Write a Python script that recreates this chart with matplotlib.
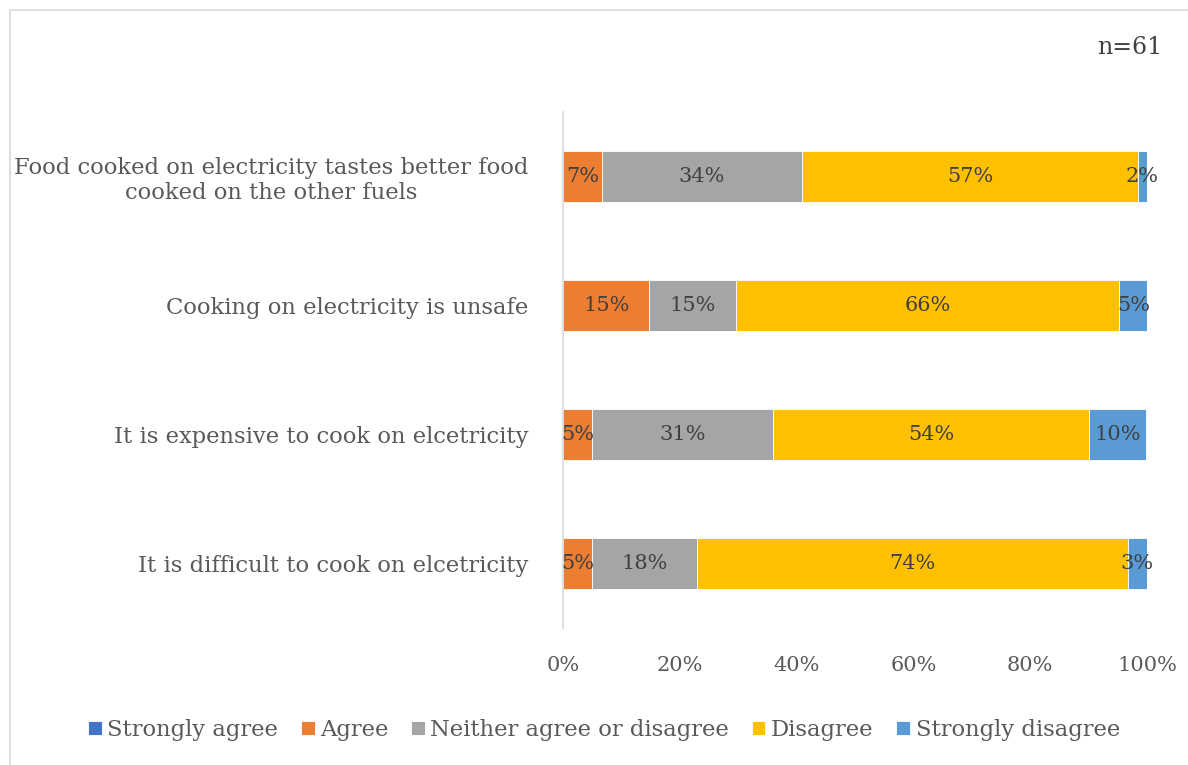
import numpy as np
import matplotlib.pyplot as plt
from matplotlib.patches import Rectangle

plt.rcParams['font.family'] = 'DejaVu Serif'

statements = [
    'Food cooked on electricity tastes better food\ncooked on the other fuels',
    'Cooking on electricity is unsafe',
    'It is expensive to cook on elcetricity',
    'It is difficult to cook on elcetricity',
]
responses = ['Strongly agree', 'Agree', 'Neither agree or disagree', 'Disagree', 'Strongly disagree']
colors = ['#4472C4', '#ED7D31', '#A5A5A5', '#FFC000', '#5B9BD5']

# share of respondents (%) per statement, n=61
strongly_agree = [0.0, 0.0, 0.0, 0.0]
agree = [6.6, 14.8, 4.9, 4.9]
neither = [34.4, 14.8, 31.1, 18.0]
disagree = [57.4, 65.6, 54.1, 73.8]
strongly_disagree = [1.6, 4.9, 9.8, 3.3]
series = [strongly_agree, agree, neither, disagree, strongly_disagree]

fig = plt.figure(figsize=(11.88, 7.65), dpi=100)
fig.patches.append(Rectangle((10 / 1188, -0.01), 1.0, 1 - 10 / 765 + 0.01,
                             transform=fig.transFigure, fill=False,
                             edgecolor='#d9d9d9', linewidth=1.2))
ax = fig.add_axes([563 / 1188, 1 - 628 / 765, 584 / 1188, 516 / 765])

y = np.arange(len(statements))
left = np.zeros(len(statements))
for name, vals, c in zip(responses, series, colors):
    vals = np.array(vals)
    ax.barh(y, vals, left=left, height=0.4, color=c, edgecolor='white',
            linewidth=0.6, label=name)
    for yi, l, v in zip(y, left, vals):
        if v > 0:
            ax.text(l + v / 2, yi, f'{v:.0f}%', ha='center', va='center',
                    fontsize=15, color='#404040')
    left += vals

ax.set_xlim(0, 100)
ax.set_ylim(3.5, -0.5)
ax.set_yticks(y)
ax.set_yticklabels(statements, fontsize=16.3, color='#595959',
                   multialignment='center', linespacing=1.15)
ax.set_xticks(np.arange(0, 101, 20))
ax.set_xticklabels([f'{t}%' for t in range(0, 101, 20)], fontsize=15, color='#595959')
ax.tick_params(length=0)
ax.tick_params(axis='y', pad=25)
ax.tick_params(axis='x', pad=20)
for s in ['top', 'right', 'bottom']:
    ax.spines[s].set_visible(False)
ax.spines['left'].set_color('#d9d9d9')
ax.spines['left'].set_linewidth(1.2)

fig.text(1162 / 1188, 1 - 47 / 765, 'n=61', ha='right', va='center',
         fontsize=17, color='#404040')

fig.legend(loc='center', bbox_to_anchor=(604 / 1188, 1 - 730 / 765), ncol=5,
           frameon=False, fontsize=16.3, handlelength=0.6, handleheight=0.6,
           handletextpad=0.25, columnspacing=1.0, labelcolor='#595959')

fig.savefig('out.png', dpi=100)
